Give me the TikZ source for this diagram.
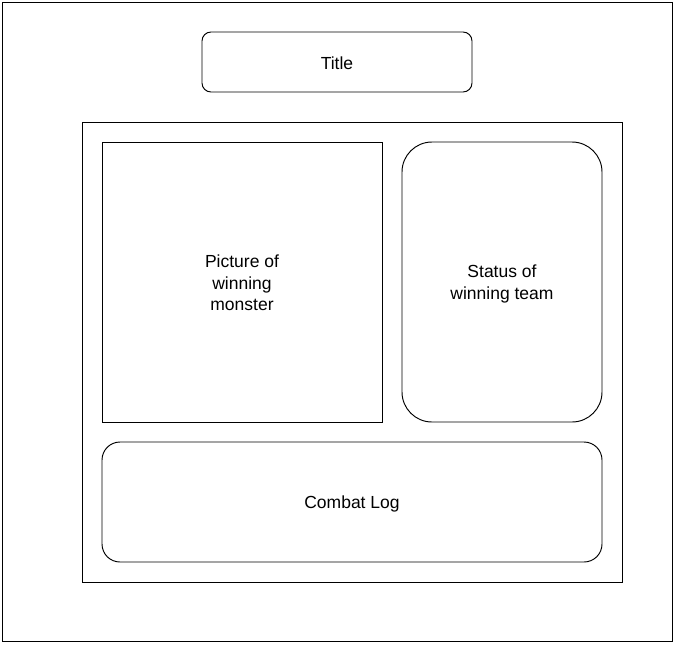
\documentclass[tikz,border=0pt]{standalone}
\usepackage{fontspec}
\setmainfont{Liberation Sans}
\begin{document}
\begin{tikzpicture}[x=1pt,y=-1pt,
  box/.style={draw=black,line width=0.95pt},
  lbl/.style={align=center,font=\fontsize{17.5}{21.5}\selectfont,text=black}]
\useasboundingbox[fill=white] (0,0) rectangle (676,646);
\draw[box] (2,2) rectangle (672,641);
\draw[box,rounded corners=9] (202,32) rectangle (472,92);
\node[lbl] (title) at (337,63) {Title};
\draw[box] (82,122) rectangle (622,582);
\draw[box] (102,142) rectangle (382,422);
\node[lbl] (pic) at (242,283) {Picture of\\winning\\monster};
\draw[box,rounded corners=30] (402,142) rectangle (602,422);
\node[lbl] (status) at (502,284) {Status of\\winning team};
\draw[box,rounded corners=18] (102,442) rectangle (602,562);
\node[lbl] (log) at (352,503.5) {Combat Log};
\end{tikzpicture}
\end{document}
